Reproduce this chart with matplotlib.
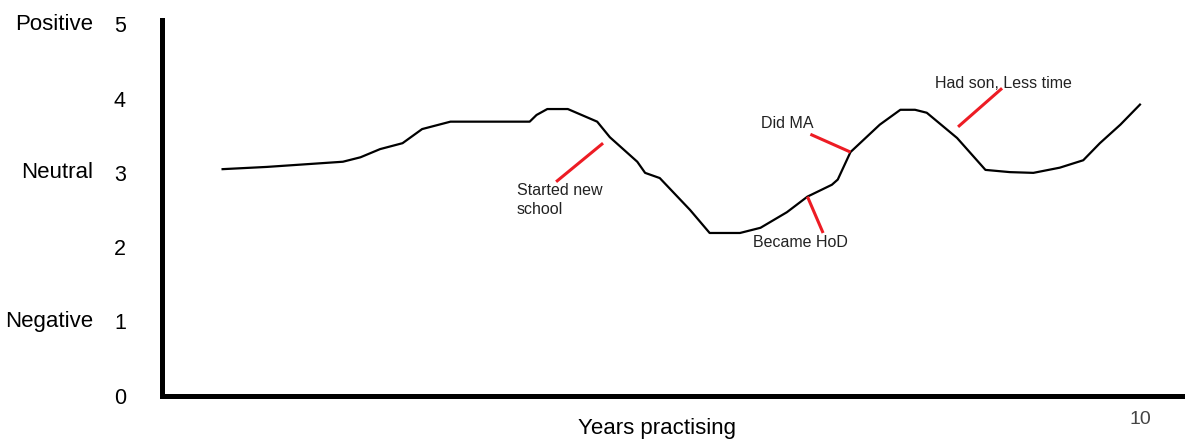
import matplotlib
matplotlib.use("Agg")
import matplotlib.pyplot as plt

# Career wellbeing line (x = years practising, y = feeling 0-5)
years = [0.62, 1.07, 1.85, 2.03, 2.23, 2.46, 2.66, 2.95, 3.76, 3.83, 3.94, 4.15,
         4.45, 4.58, 4.86, 4.94, 5.09, 5.40, 5.60, 5.91, 6.12, 6.39, 6.60, 6.85,
         6.91, 7.04, 7.34, 7.55, 7.70, 7.82, 8.13, 8.42, 8.67, 8.91, 9.18, 9.42,
         9.59, 9.80, 10.0]
feeling = [3.05, 3.08, 3.15, 3.21, 3.32, 3.40, 3.59, 3.69, 3.69, 3.78, 3.86, 3.86,
           3.69, 3.48, 3.15, 3.00, 2.93, 2.50, 2.19, 2.19, 2.26, 2.47, 2.68, 2.84,
           2.91, 3.28, 3.65, 3.85, 3.85, 3.81, 3.47, 3.04, 3.01, 3.00, 3.07, 3.17,
           3.40, 3.65, 3.92]

y_ticks = [0, 1, 2, 3, 4, 5]
y_names = {5: "Positive", 3: "Neutral", 1: "Negative"}
x_ticks = [10]
x_tick_labels = ["10"]

# events: label, text anchor (x, y), leader line start, leader line end
events = [
    ("Started new\nschool", (3.63, 2.86), (4.03, 2.88), (4.51, 3.40)),
    ("Became HoD", (6.04, 2.06), (6.76, 2.19), (6.60, 2.68)),
    ("Did MA", (6.12, 3.66), (6.63, 3.52), (7.04, 3.28)),
    ("Had son, Less time", (7.90, 4.21), (8.59, 4.14), (8.14, 3.62)),
]

plt.rcParams['font.family'] = ['Liberation Sans', 'DejaVu Sans']

fig = plt.figure(figsize=(11.9, 4.45), dpi=100)
ax = fig.add_axes([0.1361, 0.1112, 0.8572, 0.8439])

ax.plot(years, feeling, color="black", lw=1.6, solid_joinstyle="round")

for label, txt, p0, p1 in events:
    ax.plot([p0[0], p1[0]], [p0[1], p1[1]], color="#ed1c24", lw=2.2,
            solid_capstyle="butt")
    va = "top" if "\n" in label else "center"
    ax.text(txt[0], txt[1], label, fontsize=11.5, color="#222222",
            ha="left", va=va, linespacing=1.3)

ax.set_xlim(0, 10.43)
ax.set_ylim(0, 5.06)

for s in ["top", "right"]:
    ax.spines[s].set_visible(False)
for s in ["left", "bottom"]:
    ax.spines[s].set_linewidth(3.6)
    ax.spines[s].set_capstyle("projecting")

ax.set_yticks(y_ticks)
ax.set_yticklabels([str(v) for v in y_ticks], fontsize=15.5)
ax.tick_params(axis="y", length=0, pad=26)
ax.set_xticks(x_ticks)
ax.set_xticklabels(x_tick_labels, fontsize=14, color="#444444")
ax.tick_params(axis="x", length=0, pad=11)

for v, name in y_names.items():
    ax.text(-0.067, v, name, transform=ax.get_yaxis_transform(),
            ha="right", va="center", fontsize=16)

ax.text(5.06, -0.44, "Years practising", ha="center", va="center",
        fontsize=16, clip_on=False)

fig.savefig("out.png", dpi=100)
